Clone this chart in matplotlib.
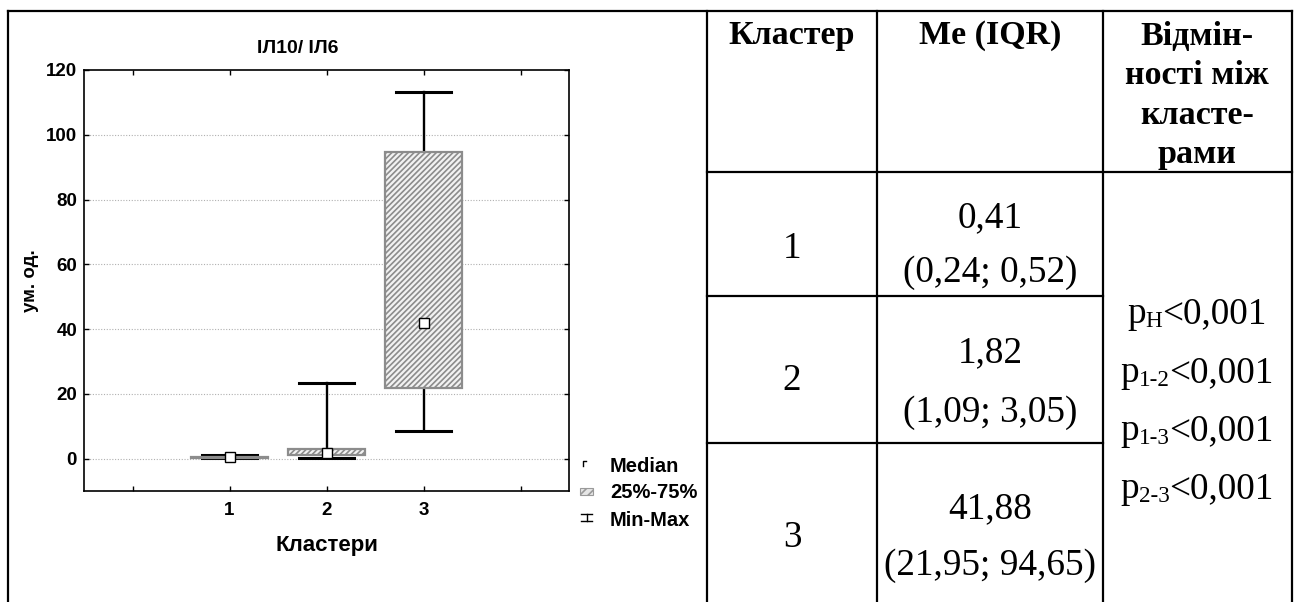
import matplotlib
matplotlib.use("Agg")
import matplotlib.pyplot as plt
from matplotlib.patches import Rectangle

# ---------------- data ----------------
clusters = [1, 2, 3]
cluster_labels = ["1", "2", "3"]
medians = [0.41, 1.82, 41.88]
q1 = [0.24, 1.09, 21.95]
q3 = [0.52, 3.05, 94.65]
mins = [0.1, 0.2, 8.5]
maxs = [1.25, 23.2, 113.2]
yticks = [0, 20, 40, 60, 80, 100, 120]

title = "ІЛ10/ ІЛ6"
ylabel = "ум. од."
xlabel = "Кластери"
legend_labels = ["Median", "25%-75%", "Min-Max"]

table_header = ["Кластер", "Me (IQR)", ["Відмін-", "ності між", "класте-", "рами"]]
table_me = ["0,41", "1,82", "41,88"]
table_iqr = ["(0,24; 0,52)", "(1,09; 3,05)", "(21,95; 94,65)"]
p_subs = ["H", "1-2", "1-3", "2-3"]
p_value = "<0,001"

# ---------------- figure ----------------
W, H = 1298, 602
plt.rcParams["hatch.color"] = "#6a6a6a"
plt.rcParams["hatch.linewidth"] = 1.2

fig = plt.figure(figsize=(W / 100, H / 100), dpi=100)

def px_rect(l, t, r, b):
    return [l / W, 1 - b / H, (r - l) / W, (b - t) / H]

ax = fig.add_axes(px_rect(84, 70, 569, 491))
sans = "Liberation Sans"

stats = []
for c, m, a, b, lo, hi in zip(clusters, medians, q1, q3, mins, maxs):
    stats.append(dict(med=m, q1=a, q3=b, whislo=lo, whishi=hi, fliers=[], label=str(c)))

res = ax.bxp(stats, positions=clusters, widths=0.8, capwidths=0.56, patch_artist=True,
             showfliers=False,
             boxprops=dict(facecolor="#f2f2f2", edgecolor="#8c8c8c", linewidth=1.6, hatch="//////"),
             whiskerprops=dict(color="black", linewidth=1.7),
             capprops=dict(color="black", linewidth=2.2),
             medianprops=dict(linewidth=0))
for b in res["boxes"]:
    b.set_zorder(3)
ax.plot(clusters, medians, "s", ms=6.5, mfc="white", mec="black", mew=1.0, zorder=5)

ax.set_xlim(-0.5, 4.5)
ax.set_ylim(-10, 120)
ax.set_xticks([0, 1, 2, 3, 4])
ax.set_xticklabels([""] + cluster_labels + [""])
ax.set_yticks(yticks)
ax.set_yticklabels([str(v) for v in yticks])
for lab in ax.get_xticklabels() + ax.get_yticklabels():
    lab.set_fontfamily(sans)
    lab.set_fontweight("bold")
    lab.set_fontsize(13.5)
ax.tick_params(direction="in", length=3.5, width=1.0, top=True, right=True)
ax.tick_params(axis="y", pad=5)
ax.tick_params(axis="x", pad=8)
for s in ax.spines.values():
    s.set_linewidth(1.2)
for v in yticks[:-1]:
    ax.axhline(v, color="#b0b0b0", linestyle=(0, (1, 1.5)), linewidth=0.8, zorder=0)

ax.set_ylabel(ylabel, fontfamily=sans, fontweight="bold", fontsize=13.5)
ax.yaxis.set_label_coords(-0.093, 0.5)
ax.set_xlabel(xlabel, fontfamily=sans, fontweight="bold", fontsize=16)
ax.xaxis.set_label_coords(0.5, -0.105)
ax.text(0.441, (491 - 53) / 421, title, transform=ax.transAxes, ha="center", va="baseline",
        fontfamily=sans, fontweight="bold", fontsize=14)

# ---------------- overlay (table + legend) in pixel coords ----------------
ov = fig.add_axes([0, 0, 1, 1], zorder=-1)
ov.set_xlim(0, W)
ov.set_ylim(H, 0)
ov.axis("off")
lw = 1.6
k = "black"
ov.plot([8, 1292], [11, 11], color=k, lw=lw)
ov.plot([8, 8], [11, H], color=k, lw=lw)
ov.plot([707, 707], [11, H], color=k, lw=lw)
ov.plot([877, 877], [11, H], color=k, lw=lw)
ov.plot([1103, 1103], [11, H], color=k, lw=lw)
ov.plot([1292, 1292], [11, H], color=k, lw=lw)
ov.plot([707, 1292], [172, 172], color=k, lw=lw)
ov.plot([707, 1103], [296, 296], color=k, lw=lw)
ov.plot([707, 1103], [443, 443], color=k, lw=lw)

serif = "Liberation Serif"
hfs = 24.5
bfs = 26.8
ov.text(792, 44, table_header[0], ha="center", va="baseline", fontfamily=serif, fontweight="bold", fontsize=hfs)
ov.text(990, 44, table_header[1], ha="center", va="baseline", fontfamily=serif, fontweight="bold", fontsize=hfs)
for i, line in enumerate(table_header[2]):
    ov.text(1197, 45 + i * 39.3, line, ha="center", va="baseline", fontfamily=serif, fontweight="bold", fontsize=hfs)

num_base = [258, 390, 547]
me_base = [227, 362, 518]
iqr_base = [282, 422, 575]
for i in range(3):
    ov.text(792, num_base[i], cluster_labels[i], ha="center", va="baseline", fontfamily=serif, fontsize=bfs)
    ov.text(990, me_base[i], table_me[i], ha="center", va="baseline", fontfamily=serif, fontsize=bfs)
    ov.text(990, iqr_base[i], table_iqr[i], ha="center", va="baseline", fontfamily=serif, fontsize=bfs)

# p-values with subscripts laid out piece by piece
renderer = fig.canvas.get_renderer()
p_base = [323, 382, 440, 498]
sub_fs = bfs * 0.62
for i, sub in enumerate(p_subs):
    y = p_base[i]
    t1 = ov.text(0, y, "p", ha="left", va="baseline", fontfamily=serif, fontsize=bfs)
    t2 = ov.text(0, y + 4, sub, ha="left", va="baseline", fontfamily=serif, fontsize=sub_fs)
    t3 = ov.text(0, y, p_value, ha="left", va="baseline", fontfamily=serif, fontsize=bfs)
    w1 = t1.get_window_extent(renderer).width
    w2 = t2.get_window_extent(renderer).width
    w3 = t3.get_window_extent(renderer).width
    x0 = 1197 - (w1 + w2 + w3) / 2
    t1.set_x(x0)
    t2.set_x(x0 + w1)
    t3.set_x(x0 + w1 + w2)

# legend
ov.plot([583, 583, 586], [466, 461, 461], color=k, lw=1.0)
ov.add_patch(Rectangle((580, 488), 13, 7, facecolor="#e6e6e6", edgecolor="#9a9a9a", hatch="////", lw=0.8))
ov.plot([581, 592], [514, 514], color=k, lw=1.0)
ov.plot([581, 592], [521, 521], color=k, lw=1.0)
ov.plot([586.5, 586.5], [514, 521], color=k, lw=1.0)
for yy, lab in zip([467, 493, 520], legend_labels):
    ov.text(610, yy, lab, ha="left", va="center", fontfamily=sans, fontweight="bold", fontsize=14.5)

fig.savefig("out.png", dpi=100)
